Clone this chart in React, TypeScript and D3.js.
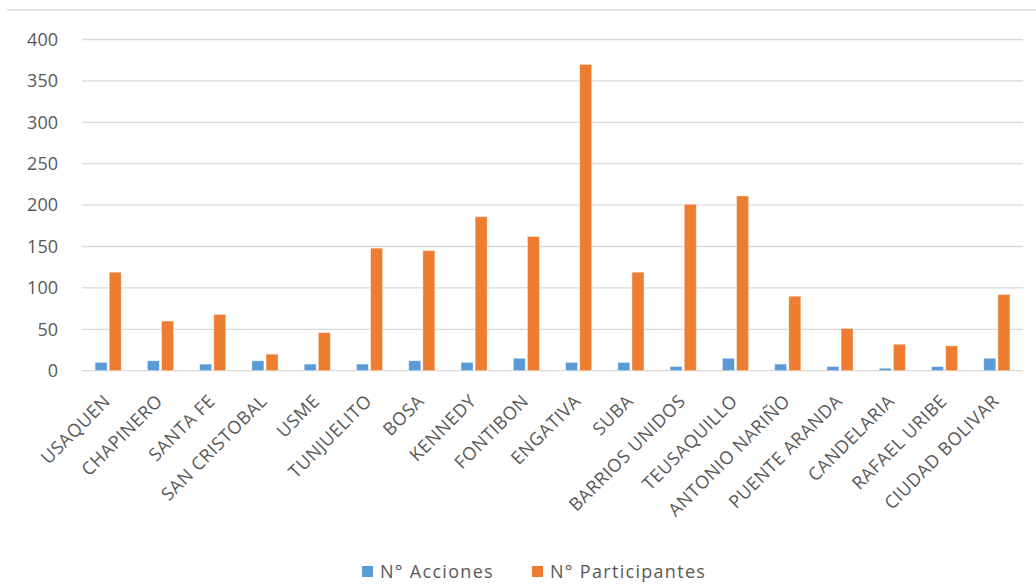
import React from 'react'
import * as d3 from 'd3'

const categories = [
  'USAQUEN', 'CHAPINERO', 'SANTA FE', 'SAN CRISTOBAL', 'USME', 'TUNJUELITO', 'BOSA', 'KENNEDY',
  'FONTIBON', 'ENGATIVA', 'SUBA', 'BARRIOS UNIDOS', 'TEUSAQUILLO', 'ANTONIO NARIÑO',
  'PUENTE ARANDA', 'CANDELARIA', 'RAFAEL URIBE', 'CIUDAD BOLIVAR'
]
const acciones = [10, 12, 8, 12, 8, 8, 12, 10, 15, 10, 10, 5, 15, 8, 5, 3, 5, 15]
const participantes = [119, 60, 68, 20, 46, 148, 145, 186, 162, 370, 119, 201, 211, 90, 51, 32, 30, 92]
const seriesNames = ['N° Acciones', 'N° Participantes']
const seriesColors = ['#5B9BD5', '#ED7D31']
const yTicks = [0, 50, 100, 150, 200, 250, 300, 350, 400]

const W = 1036
const H = 584
const left = 82
const right = 1023
const top = 39.5
const bottom = 370.7
const font = '"Open Sans", Lato, sans-serif'

export default function App() {
  const x = d3.scaleBand<string>().domain(categories).range([left, right])
  const bw = x.bandwidth()
  const x1 = d3.scaleBand<string>().domain(seriesNames).range([bw * 0.25, bw * 0.75]).paddingInner(0.15)
  const y = d3.scaleLinear().domain([0, 400]).range([bottom, top])
  const values = [acciones, participantes]

  return (
    <svg width={W} height={H} style={{ position: 'absolute', left: 0, top: 0, background: '#fff' }}>
      <line x1={7} x2={W} y1={10} y2={10} stroke="#d9d9d9" strokeWidth={1.5} />
      {yTicks.map(t => (
        <g key={t}>
          <line x1={left} x2={right} y1={y(t)} y2={y(t)} stroke="#d9d9d9" strokeWidth={1.3} />
          <text x={58} y={y(t)} dy="0.35em" textAnchor="end" fontFamily={font} fontSize={18} fill="#595959">
            {t}
          </text>
        </g>
      ))}
      {seriesNames.map((s, si) =>
        categories.map((c, i) => {
          const v = values[si][i]
          return (
            <rect
              key={s + c}
              x={(x(c) as number) + (x1(s) as number)}
              y={y(v)}
              width={x1.bandwidth()}
              height={bottom - y(v)}
              fill={seriesColors[si]}
              stroke="#fff"
              strokeOpacity={0.5}
              strokeWidth={0.8}
            />
          )
        })
      )}
      {categories.map(c => {
        const cx = (x(c) as number) + bw / 2 - 1
        const cy = bottom + 27
        return (
          <text
            key={c}
            transform={`translate(${cx},${cy}) rotate(-45)`}
            textAnchor="end"
            dy="0.35em"
            fontFamily={font}
            fontSize={18}
            letterSpacing={0.6}
            fill="#595959"
          >
            {c}
          </text>
        )
      })}
      {seriesNames.map((s, si) => {
        const lx = [362, 532][si]
        return (
          <g key={s}>
            <rect x={lx} y={566} width={11} height={11} fill={seriesColors[si]} />
            <text x={lx + 18} y={571.5} dy="0.35em" fontFamily={font} fontSize={18} letterSpacing={1.3} fill="#595959">
              {s}
            </text>
          </g>
        )
      })}
    </svg>
  )
}
